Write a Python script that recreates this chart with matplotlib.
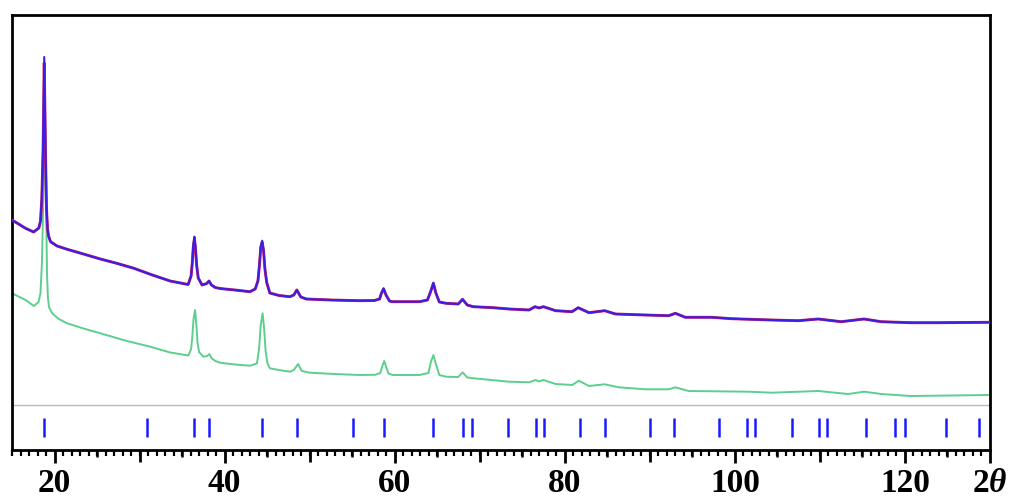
import matplotlib
matplotlib.use("Agg")
import matplotlib.pyplot as plt
from matplotlib.ticker import MultipleLocator, FixedLocator

# --- Observed / calculated pattern (2theta in degrees, intensity in counts) ---
two_theta = [15.0, 16.6, 17.54, 18.16, 18.35, 18.5, 18.65, 18.79, 18.94, 19.06, 19.18,
             19.3, 19.53, 20.3, 21.49, 23.4, 25.39, 27.4, 29.30, 31.5, 33.6, 35.71,
             36.06, 36.2, 36.32, 36.45, 36.58, 36.72, 36.9, 37.35, 37.9, 38.17, 38.45,
             38.9, 39.46, 41.2, 42.98, 43.6, 43.92, 44.1, 44.25, 44.42, 44.58, 44.74,
             44.95, 45.32, 46.4, 47.67, 48.14, 48.49, 48.96, 49.62, 52.5, 55.87, 57.6,
             58.22, 58.45, 58.69, 58.98, 59.39, 59.74, 62.91, 63.85, 64.21, 64.55,
             64.84, 65.25, 66.04, 67.47, 67.98, 68.53, 69.23, 71.58, 73.46, 75.80,
             76.5, 76.98, 77.48, 78.93, 80.85, 81.58, 82.84, 84.68, 85.97, 89.48,
             92.22, 93.0, 94.17, 97.26, 99.6, 104.29, 107.46, 109.80, 112.50, 115.19,
             117.19, 120.70, 123.87, 130.0]
obs_int = [1850, 1767, 1730, 1770, 1840, 2050, 2520, 3420, 2520, 1960, 1760,
           1690, 1633, 1590, 1557, 1510, 1460, 1415, 1368, 1300, 1240, 1205,
           1290, 1420, 1580, 1660, 1560, 1390, 1270, 1200, 1215, 1240, 1200,
           1175, 1165, 1150, 1133, 1160, 1240, 1400, 1570, 1625, 1540, 1360,
           1225, 1120, 1095, 1083, 1100, 1150, 1080, 1060, 1050, 1043, 1045,
           1060, 1120, 1160, 1100, 1040, 1033, 1033, 1050, 1130, 1215,
           1120, 1030, 1017, 1010, 1057, 1000, 983, 973, 960, 950,
           983, 970, 983, 943, 933, 973, 923, 943, 910, 900,
           893, 917, 877, 877, 863, 850, 843, 860, 833, 860,
           833, 823, 823, 827]
calc_int = [1850, 1767, 1730, 1770, 1840, 2060, 2560, 3480, 2560, 1970, 1760,
            1690, 1633, 1590, 1557, 1510, 1460, 1415, 1368, 1300, 1240, 1205,
            1290, 1430, 1600, 1683, 1575, 1395, 1270, 1200, 1215, 1240, 1200,
            1175, 1165, 1150, 1133, 1160, 1245, 1410, 1590, 1643, 1550, 1365,
            1225, 1120, 1095, 1083, 1100, 1150, 1080, 1060, 1050, 1043, 1045,
            1060, 1120, 1167, 1100, 1040, 1033, 1033, 1050, 1130, 1223,
            1120, 1030, 1017, 1010, 1057, 1000, 983, 973, 960, 950,
            983, 970, 983, 943, 933, 973, 923, 943, 910, 900,
            893, 917, 877, 877, 863, 850, 843, 860, 833, 860,
            833, 823, 823, 827]

# --- Second (lower) pattern ---
two_theta_b = [15.0, 16.6, 17.57, 18.12, 18.35, 18.52, 18.68, 18.86, 19.0, 19.12, 19.22,
               19.35, 19.73, 20.5, 21.49, 23.4, 25.39, 28.3, 31.25, 33.6, 35.74,
               36.06, 36.2, 36.35, 36.53, 36.68, 36.82, 37.0, 37.5, 37.95, 38.21,
               38.45, 38.9, 39.46, 41.2, 42.98, 43.8, 44.05, 44.25, 44.47, 44.65,
               44.82, 45.03, 45.32, 46.4, 47.67, 48.14, 48.64, 49.07, 50.01, 52.9,
               55.87, 57.7, 58.3, 58.55, 58.77, 59.0, 59.27, 59.78, 62.91, 63.96,
               64.26, 64.55, 64.84, 65.25, 66.04, 67.47, 67.98, 68.53, 69.27, 73.46,
               75.80, 76.58, 76.98, 77.48, 78.93, 80.88, 81.66, 82.84, 84.68, 86.35,
               89.48, 92.22, 93.0, 94.56, 101.6, 104.33, 109.80, 113.32, 115.19,
               117.22, 120.70, 130.0]
int_b = [1117, 1050, 990, 1030, 1120, 1420, 2050, 2770, 2050, 1300, 1080,
         980, 917, 860, 817, 765, 717, 645, 583, 525, 495,
         560, 680, 860, 950, 800, 620, 530, 483, 490, 510,
         470, 440, 423, 405, 393, 415, 560, 800, 917, 760,
         540, 420, 367, 350, 333, 350, 410, 340, 323, 310,
         300, 302, 320, 390, 440, 380, 315, 300, 300, 320,
         430, 500, 410, 300, 283, 280, 327, 275, 267, 233,
         227, 250, 235, 250, 210, 200, 243, 190, 207, 177,
         157, 157, 177, 140, 133, 123, 140, 110, 133,
         110, 90, 100]

# --- Bragg reflection positions ---
bragg_pos = [18.75, 30.87, 36.41, 38.17, 44.35, 48.52, 55.09, 58.72, 64.55, 67.98,
             69.04, 73.34, 76.59, 77.56, 81.75, 84.71, 89.99, 92.8, 98.19, 101.4,
             102.38, 106.67, 109.92, 110.89, 115.46, 118.86, 120.04, 124.84, 128.76]

tick_pos = [20, 40, 60, 80, 100, 120, 130]
tick_labels = ["20", "40", "60", "80", "100", "120", r"$2\theta$"]

plt.rcParams["mathtext.fontset"] = "custom"
plt.rcParams["mathtext.rm"] = "Liberation Serif:bold"
plt.rcParams["mathtext.it"] = "Liberation Serif:italic:bold"

fig = plt.figure(figsize=(10.12, 5.04), dpi=100)
ax = fig.add_axes([12 / 1012, 1 - 450 / 504, (990 - 12) / 1012, (450 - 15) / 504])

line_kw = dict(solid_joinstyle="round", solid_capstyle="round")
ax.plot(two_theta, obs_int, color="#d0205a", lw=2.1, zorder=3, **line_kw)
ax.plot(two_theta, calc_int, color="#3a1ee6", lw=1.5, zorder=4, **line_kw)
ax.plot(two_theta_b, int_b, color="#5ccf8e", lw=1.4, zorder=2, **line_kw)
ax.axhline(0, color="#b8b8b8", lw=1.0, zorder=1)
ax.vlines(bragg_pos, -320, -130, color="#1a1aff", lw=1.8, zorder=3)

ax.set_xlim(15, 130)
ax.set_ylim(-450, 3900)

for side in ["top", "bottom", "left", "right"]:
    ax.spines[side].set_linewidth(2.0)
    ax.spines[side].set_color("black")

ax.set_yticks([])
ax.xaxis.set_major_locator(FixedLocator(tick_pos))
ax.set_xticklabels(tick_labels, fontfamily="Liberation Serif",
                   fontweight="bold", fontsize=24)
ax.xaxis.set_minor_locator(MultipleLocator(1))
ax.tick_params(axis="x", which="major", direction="out", length=9, width=2,
               pad=4, color="black")
ax.tick_params(axis="x", which="minor", direction="out", length=4, width=1.6,
               color="black")
# mid-decade ticks at every 5 degrees
for xv in range(25, 130, 10):
    ax.plot([xv, xv], [0, -0.016], transform=ax.get_xaxis_transform(),
            color="black", lw=1.8, clip_on=False, solid_capstyle="butt")
# long ticks on the decades without labels
for xv in [30, 50, 70, 90, 110]:
    ax.plot([xv, xv], [0, -0.028], transform=ax.get_xaxis_transform(),
            color="black", lw=2.0, clip_on=False, solid_capstyle="butt")

fig.savefig("out.png", dpi=100, facecolor="white")
